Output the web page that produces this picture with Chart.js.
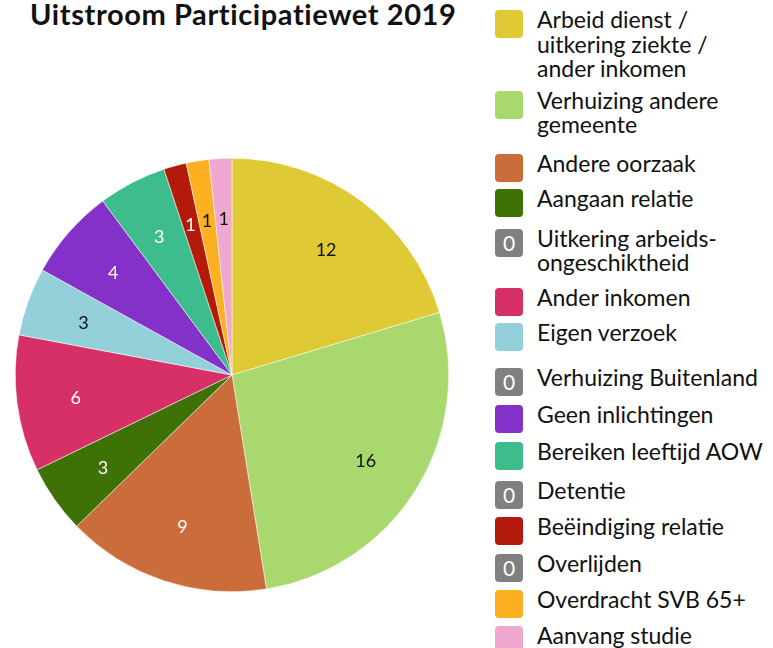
<!DOCTYPE html>
<html>
<head>
<meta charset="utf-8">
<script src="https://cdn.jsdelivr.net/npm/chart.js@4.4.1/dist/chart.umd.min.js"></script>
<style>
  body { margin: 0; background: #fff; font-family: Lato, sans-serif; }
  #title { position: absolute; left: 30px; top: -4px; font-size: 29px; font-weight: bold; color: #111;
           white-space: nowrap; letter-spacing: 0.6px; }
  #wrap { position: absolute; left: 0; top: 158px; width: 464px; height: 434px; }
  #legend { position: absolute; left: 495px; top: 10px; width: 278px; }
  .item { display: flex; align-items: flex-start; }
  .box { width: 28px; height: 28px; border-radius: 4px; flex: none; margin-right: 14px;
         color: #fff; font-size: 21px; line-height: 28px; text-align: center; }
  .txt { font-size: 23px; line-height: 24.5px; color: #111; white-space: pre-line; margin-top: -3px; }
</style>
</head>
<body>
<div id="title">Uitstroom Participatiewet 2019</div>
<div id="wrap"><canvas id="myChart"></canvas></div>
<div id="legend"></div>
<script>
// Data voor de grafiek
let labels = [
    "Arbeid dienst /\nuitkering ziekte /\nander inkomen",
    "Verhuizing andere\ngemeente",
    "Andere oorzaak",
    "Aangaan relatie",
    "Uitkering arbeids-\nongeschiktheid",
    "Ander inkomen",
    "Eigen verzoek",
    "Verhuizing Buitenland",
    "Geen inlichtingen",
    "Bereiken leeftijd AOW",
    "Detentie",
    "Beëindiging relatie",
    "Overlijden",
    "Overdracht SVB 65+",
    "Aanvang studie"
];
let values = [12, 16, 9, 3, 0, 6, 3, 0, 4, 3, 0, 1, 0, 1, 1];

// Kleuren
let colors = ["#dfca35", "#a8d86e", "#cb6d3b", "#3f7206", "#808080", "#d63067", "#94d0da",
              "#808080", "#8431c9", "#3dbd8c", "#808080", "#b31a0b", "#808080", "#fdb022", "#f0a8d0"];
let labelColors = ["#111", "#111", "#fff", "#fff", "#fff", "#fff", "#111",
                   "#fff", "#fff", "#fff", "#fff", "#fff", "#fff", "#111", "#111"];
// Ruimte onder elk legenda-item (px)
let legendGaps = [10, 17, 7, 12, 13, 7, 17, 9, 9, 11, 8, 9, 8, 8, 0];

// Legenda bouwen
let legend = document.getElementById("legend");
labels.forEach((label, i) => {
    let item = document.createElement("div");
    item.className = "item";
    item.style.marginBottom = legendGaps[i] + "px";
    let box = document.createElement("div");
    box.className = "box";
    box.style.background = colors[i];
    if (values[i] === 0) box.textContent = "0";
    let txt = document.createElement("div");
    txt.className = "txt";
    txt.textContent = label;
    item.appendChild(box);
    item.appendChild(txt);
    legend.appendChild(item);
});

// Plugin voor de getallen in de taartpunten
let sliceLabels = {
    id: "sliceLabels",
    afterDatasetsDraw(chart) {
        let c = chart.ctx;
        chart.getDatasetMeta(0).data.forEach((arc, i) => {
            if (!values[i]) return;
            let p = arc.getProps(["x", "y", "startAngle", "endAngle", "outerRadius"], true);
            let mid = (p.startAngle + p.endAngle) / 2;
            let r = p.outerRadius * 0.728;
            c.save();
            c.font = "18px Lato, sans-serif";
            c.fillStyle = labelColors[i];
            c.textAlign = "center";
            c.textBaseline = "middle";
            c.fillText(String(values[i]), p.x + Math.cos(mid) * r, p.y + Math.sin(mid) * r + 2);
            c.restore();
        });
    }
};

new Chart(document.getElementById("myChart"), {
    type: "pie",
    data: {
        labels,
        datasets: [{
            data: values,
            backgroundColor: colors,
            borderColor: "#fff",
            borderWidth: 0.5
        }]
    },
    options: {
        responsive: true,
        maintainAspectRatio: false,
        animation: false,
        plugins: {
            legend: { display: false },
            tooltip: { enabled: false }
        }
    },
    plugins: [sliceLabels]
});
</script>
</body>
</html>
